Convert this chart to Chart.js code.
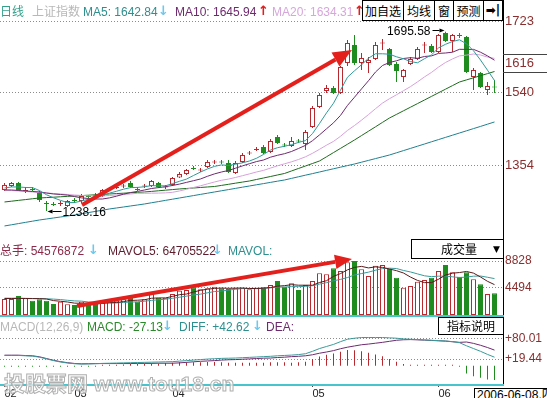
<!DOCTYPE html>
<html>
<head>
<meta charset="utf-8">
<script src="https://cdn.jsdelivr.net/npm/chart.js@4.4.0/dist/chart.umd.min.js"></script>
<style>
  body { margin: 0; background: #fff; width: 547px; height: 398px; overflow: hidden; position: relative;
         font-family: "Liberation Sans", "Noto Sans CJK SC", sans-serif; font-size: 12px; }
  canvas { position: absolute; left: 0; }
  .t { position: absolute; white-space: nowrap; line-height: 14px; }
  .ar { font-weight: bold; font-family: "DejaVu Sans", sans-serif; font-size: 13px; }
  .box { position: absolute; box-sizing: border-box; border: 1px solid #000; background: #fff; text-align: center;
         font-family: "Noto Sans CJK SC", sans-serif; font-size: 12px; white-space: nowrap; }
  .wm { position: absolute; font-weight: bold; font-size: 21px; color: rgba(255,255,255,0.7);
        -webkit-text-stroke: 1px #b0b0b0; white-space: nowrap; }
</style>
</head>
<body>
<canvas id="cMain" width="547" height="240" style="top:0"></canvas>
<canvas id="cVol" width="547" height="75" style="top:240px"></canvas>
<canvas id="cMacd" width="547" height="83" style="top:315px"></canvas>

<!-- main header -->
<div class="t" style="left:0;top:5px;color:#35a08a">日线</div>
<div class="t" style="left:32px;top:5px;color:#b8b8b8">上证指数</div>
<div class="t" style="left:83px;top:5px;color:#2e8f8f">MA5: 1642.84</div>
<div class="t ar" style="left:158px;top:4px;color:#6cc8ec">↓</div>
<div class="t" style="left:175px;top:5px;color:#6e2a6e">MA10: 1645.94</div>
<div class="t ar" style="left:258px;top:4px;color:#e02020">↑</div>
<div class="t" style="left:272px;top:5px;color:#d7a6dc">MA20: 1634.31</div>
<div class="t ar" style="left:354px;top:4px;color:#e02020">↑</div>

<!-- volume header -->
<div class="t" style="left:0;top:244px;color:#8c2a4a">总手: 54576872</div>
<div class="t ar" style="left:88px;top:243px;color:#6cc8ec">↓</div>
<div class="t" style="left:108px;top:244px;color:#5c1c2c">MAVOL5: 64705522</div>
<div class="t ar" style="left:212px;top:243px;color:#6cc8ec">↓</div>
<div class="t" style="left:228px;top:244px;color:#2e8f8f">MAVOL:</div>

<!-- macd header -->
<div class="t" style="left:0;top:320px;color:#b8b8b8">MACD(12,26,9)</div>
<div class="t" style="left:87px;top:320px;color:#2a8a2a">MACD: -27.13</div>
<div class="t ar" style="left:162px;top:319px;color:#6cc8ec">↓</div>
<div class="t" style="left:179px;top:320px;color:#2e8f8f">DIFF: +42.62</div>
<div class="t ar" style="left:252px;top:319px;color:#6cc8ec">↓</div>
<div class="t" style="left:266px;top:320px;color:#6e2a6e">DEA:</div>

<!-- watermark -->
<div class="wm" style="left:4px;top:367px">投股票网 www.tou18.cn</div>

<!-- boxes -->
<div class="box" style="left:362px;top:0;width:42px;height:21px;line-height:19px">加自选</div>
<div class="box" style="left:403px;top:0;width:32px;height:21px;line-height:19px">均线</div>
<div class="box" style="left:434px;top:0;width:20px;height:21px;line-height:19px">窗</div>
<div class="box" style="left:453px;top:0;width:31px;height:21px;line-height:19px">预测</div>
<div class="box" style="left:483px;top:0;width:20px;height:21px;line-height:19px;font-family:'DejaVu Sans';font-weight:bold">➡|</div>
<div class="box" style="left:411px;top:239px;width:92px;height:20px;line-height:18px;border-right:none">
  <span style="position:absolute;left:29px">成交量</span><span style="position:absolute;left:81px;font-size:9px;font-family:'DejaVu Sans'">▼</span>
</div>
<div class="box" style="left:438px;top:317px;width:66px;height:18px;line-height:16px">指标说明</div>
<div class="box" style="left:474px;top:388px;width:90px;height:14px;line-height:12px;text-align:left;padding-left:2px;font-family:'Liberation Sans','Noto Sans CJK SC'">2006-06-08,四</div>

<script>
// daily candles (index 0 = first day shown, 70 = 2006-06-08)
const opens = [1291.9,1302.1,1309.8,1289.4,1294.5,1284.2,1258.8,1256.2,1256.2,1251.1,
  1266.4,1263.8,1276.6,1279.1,1276.6,1293.2,1297.0,1300.8,1309.8,1294.5,
  1300.8,1302.1,1309.8,1298.3,1304.7,1323.8,1332.7,1348.0,1341.6,1350.6,
  1362.1,1364.6,1360.8,1335.3,1363.3,1385.0,1393.9,1401.6,1388.8,1427.1,
  1408.0,1404.2,1418.2,1409.2,1452.6,1503.6,1544.5,1552.1,1539.4,1615.9,
  1661.8,1615.9,1615.9,1626.1,1665.6,1651.6,1613.3,1580.2,1613.3,1626.1,
  1660.5,1659.3,1643.9,1692.4,1672.0,1687.3,1682.2,1580.2,1590.4,1547.0,
  1555.9];
const highs = [1309.8,1312.3,1312.3,1299.6,1299.6,1289.4,1263.8,1261.3,1263.8,1266.4,
  1271.5,1281.7,1279.1,1284.2,1294.5,1299.6,1304.7,1307.2,1314.9,1299.6,
  1307.2,1317.4,1312.3,1304.7,1325.1,1337.8,1345.5,1353.1,1348.0,1368.4,
  1368.4,1368.4,1368.4,1365.9,1386.3,1391.4,1401.6,1406.7,1422.0,1432.2,
  1411.8,1427.1,1422.0,1445.0,1506.2,1539.4,1559.7,1557.2,1608.2,1674.6,
  1687.3,1641.4,1631.2,1669.5,1677.1,1654.2,1618.4,1600.6,1631.2,1656.7,
  1669.5,1664.4,1689.9,1695.58,1689.9,1692.4,1684.8,1603.1,1592.9,1567.4,
  1572.5];
const lows = [1289.4,1299.6,1289.4,1284.2,1289.4,1261.3,1238.16,1251.1,1251.1,1248.5,
  1258.8,1258.8,1268.9,1271.5,1274.0,1289.4,1294.5,1297.0,1297.0,1289.4,
  1297.0,1299.6,1297.0,1294.5,1302.1,1322.5,1330.2,1342.9,1337.8,1348.0,
  1358.2,1358.2,1335.3,1332.7,1360.8,1381.2,1391.4,1383.7,1386.3,1409.2,
  1401.6,1401.6,1411.8,1393.9,1450.1,1501.1,1539.4,1536.8,1536.8,1608.2,
  1610.8,1598.0,1590.4,1623.5,1649.1,1608.2,1567.4,1567.4,1610.8,1623.5,
  1641.4,1641.4,1641.4,1669.5,1643.9,1679.7,1590.4,1547.0,1552.1,1534.3,
  1539.4];
const closes = [1304.7,1309.8,1291.9,1291.9,1291.9,1266.4,1256.2,1253.6,1258.8,1263.8,
  1263.8,1276.6,1274.0,1276.6,1291.9,1295.7,1299.6,1303.4,1299.6,1291.9,
  1303.4,1314.9,1299.6,1300.8,1322.5,1332.7,1342.9,1345.5,1344.2,1363.3,
  1364.6,1362.1,1337.8,1360.8,1381.2,1387.6,1396.5,1386.3,1416.9,1411.8,
  1405.4,1416.9,1415.6,1439.9,1501.1,1534.3,1552.1,1539.4,1605.7,1666.9,
  1615.9,1628.6,1623.5,1661.8,1666.9,1610.8,1595.5,1598.0,1626.1,1651.6,
  1663.1,1643.9,1687.3,1672.0,1687.3,1684.8,1592.9,1598.0,1554.7,1557.2,
  1553.4];

// moving average lines
const ma5 = [1297.0,1299.6,1299.6,1298.3,1298.0,1290.4,1279.7,1272.0,1265.4,1259.8,
  1259.8,1263.8,1268.4,1272.5,1278.1,1284.0,1288.6,1293.9,1298.0,1298.5,
  1300.1,1303.1,1302.4,1302.6,1308.2,1314.1,1319.7,1328.9,1337.6,1345.7,
  1352.1,1355.9,1354.4,1357.7,1361.3,1365.9,1372.8,1382.5,1393.7,1399.8,
  1403.4,1407.5,1413.3,1417.9,1435.8,1461.6,1488.6,1513.3,1546.5,1579.7,
  1596.0,1611.3,1628.1,1639.4,1639.4,1638.3,1631.7,1626.6,1619.5,1616.4,
  1626.9,1636.6,1654.4,1663.6,1670.7,1675.1,1664.9,1647.0,1623.5,1597.5,
  1571.2];
const ma10 = [1291.9,1291.9,1290.6,1289.4,1288.1,1286.8,1284.2,1281.7,1280.4,1278.9,
  1275.1,1271.8,1270.2,1268.9,1268.9,1271.8,1276.1,1281.2,1285.3,1288.3,
  1291.9,1295.7,1298.0,1300.3,1303.4,1307.0,1311.3,1315.6,1320.0,1326.9,
  1333.0,1337.8,1341.7,1347.5,1353.4,1359.0,1364.4,1368.4,1375.6,1380.4,
  1384.5,1390.1,1397.8,1405.7,1417.7,1432.5,1448.0,1463.3,1482.2,1507.7,
  1528.6,1549.8,1570.7,1592.9,1609.5,1617.2,1621.5,1627.4,1629.4,1627.9,
  1632.5,1634.0,1640.4,1641.4,1643.4,1650.8,1650.6,1650.6,1643.4,1634.0,
  1623.0];
const ma20 = [1291.9,1290.6,1289.4,1288.1,1286.8,1285.5,1284.2,1283.0,1281.7,1280.4,
  1279.1,1277.9,1277.1,1276.6,1276.6,1277.9,1279.1,1280.4,1281.7,1283.5,
  1283.5,1283.7,1284.0,1284.5,1286.0,1289.4,1293.7,1298.3,1302.6,1307.5,
  1312.3,1316.7,1319.7,1323.8,1328.4,1333.0,1337.8,1341.9,1347.8,1353.6,
  1358.7,1363.8,1369.7,1376.6,1385.5,1395.7,1406.2,1415.9,1428.9,1443.9,
  1456.4,1470.0,1484.3,1499.3,1513.6,1524.8,1534.8,1545.2,1555.7,1567.7,
  1580.4,1591.9,1605.4,1617.2,1626.3,1634.0,1636.0,1638.8,1636.3,1630.9,
  1627.6];
const ma30 = [1261.3,1263.3,1265.4,1267.4,1269.5,1271.5,1272.5,1273.5,1274.6,1275.6,
  1276.6,1277.6,1278.6,1279.7,1280.7,1281.7,1282.7,1283.7,1284.8,1285.8,
  1286.8,1288.3,1289.9,1291.4,1292.9,1294.5,1295.7,1297.0,1298.3,1299.6,
  1300.8,1303.6,1306.4,1309.3,1312.1,1314.9,1318.7,1322.5,1326.3,1330.2,
  1334.0,1340.4,1346.8,1353.1,1359.5,1365.9,1376.6,1387.3,1398.0,1408.7,
  1419.5,1430.7,1441.9,1453.1,1464.4,1475.6,1484.8,1494.0,1503.1,1512.3,
  1521.5,1530.7,1539.9,1549.1,1558.2,1567.4,1572.8,1578.1,1583.5,1588.8,
  1594.2];
const ma60 = [1200.1,1203.1,1206.2,1209.3,1212.3,1215.4,1217.9,1220.5,1223.0,1225.6,
  1228.1,1231.2,1234.3,1237.3,1240.4,1243.5,1246.0,1248.5,1251.1,1253.6,
  1256.2,1259.3,1262.3,1265.4,1268.4,1271.5,1274.6,1277.6,1280.7,1283.7,
  1286.8,1289.9,1292.9,1296.0,1299.1,1302.1,1305.2,1308.2,1311.3,1314.4,
  1317.4,1321.5,1325.6,1329.7,1333.7,1337.8,1341.9,1346.0,1350.1,1354.2,
  1358.2,1362.8,1367.4,1372.0,1376.6,1381.2,1386.8,1392.4,1398.0,1403.6,
  1409.2,1414.9,1420.5,1426.1,1431.7,1437.3,1442.9,1448.5,1454.1,1459.8,
  1465.4];

// volume
const vol = [2616,2616,3107,2730,2338,2567,2338,1799,2175,1749,
  1635,2175,1749,1913,2011,2175,2338,2567,2829,2175,
  2567,3548,2829,2829,3434,3973,4088,4464,4202,4365,
  4627,4365,4251,4365,4464,4200,4365,4529,4905,5559,
  4627,5183,4088,4905,5559,6818,6654,7635,7194,8616,
  8828,7472,6377,8061,8175,7521,6099,4464,4742,5445,
  5723,6099,7194,8175,6981,6262,6981,5837,5019,3434,
  3548];
const mavol5 = [2700,2700,2720,2700,2681,2672,2616,2354,2243,2126,
  1939,1907,1897,1844,1897,2005,2037,2201,2384,2417,
  2495,2737,2790,2790,3041,3323,3431,3758,4032,4218,
  4349,4405,4362,4395,4414,4329,4329,4385,4493,4712,
  4797,4961,4872,4872,4872,5311,5605,6314,6772,7383,
  7785,7949,7697,7871,7783,7521,7247,6864,6200,5654,
  5295,5295,5841,6527,6834,6942,7119,6847,6216,5507,
  4964];
const mavol10 = [2750,2740,2730,2720,2700,2680,2650,2600,2520,2404,
  2306,2262,2126,2044,2012,1972,1972,2049,2114,2157,
  2250,2387,2496,2587,2729,2909,3084,3274,3411,3630,
  3836,3918,4060,4214,4316,4339,4367,4374,4444,4563,
  4563,4645,4629,4683,4792,5054,5283,5593,5822,6128,
  6548,6777,7006,7322,7583,7653,7598,7281,7036,6719,
  6408,6271,6353,6364,6244,6119,6207,6344,6372,6171,
  5953];

// MACD(12,26,9)
const diff = [30,30,30,29,28,25,20,15,11,8,
  6,5,5.5,6,7,7.5,8,8.5,9,9.5,
  10,10.5,11,11.5,12,13.5,15,16.5,18,19.5,
  20.5,21.5,22,22.5,23.5,24.5,25.5,26.5,27.5,29,
  30,31,32.5,35,42,50,56,62,70,77,
  80,82,82,82,82,81,80,78,77,76,
  75,74,73,72,70,67,58,50,42,33,
  25];
const dea = [30.75,30.75,30.75,29.75,29,26,21,16,12,9,
  6.75,5.75,6,6.5,6.5,6.5,6.5,6.5,6.5,7,
  7,7,7.5,7.5,7.5,8.5,10,11.5,13,14,
  15,16.5,17.5,18,19,20,21,22,22.5,24,
  25,26.5,27.5,29,32,36.5,40,44,49.5,54,
  57.5,61,63,65.5,68,71,74,75.5,76,75.25,
  74.5,73.5,72.5,71.5,69.75,68,69,65,59.5,53,
  45.5];
const macd = [-1.5,-1.5,-1.5,-1.5,-2,-2,-2,-2,-2,-2,
  -1.5,-1.5,-1,-1,1,2,3,4,5,5,
  6,7,7,8,9,10,10,10,10,11,
  11,10,9,9,9,9,9,9,10,10,
  10,9,10,12,20,27,32,36,41,46,
  45,42,38,33,28,20,12,5,2,1.5,
  1,1,1,1,0.5,-2,-22,-30,-35,-40,
  -41];

// axis ticks
const priceTicks = [1723, 1616, 1540, 1354];
const volTicks = [8828, 4494];
const macdTicks = [80.01, 19.44];
const monthTicks = [0, 10, 24, 44, 62];
const monthLabels = ['02', '03', '04', '05', '06'];

const days = opens.map((_, i) => i);
const RED = '#b8282e', GREEN = '#1f8c1f', ARROW = '#e4201c';
const XMIN = -4.5 / 7, XMAX = (503 - 4.5) / 7;

Chart.defaults.font.family = '"Liberation Sans", Arial, sans-serif';
Chart.defaults.font.size = 12;

const up = i => closes[i] >= opens[i];
const pts = arr => arr.map((v, i) => ({ x: i, y: v }));
const line = (arr, color) => ({ type: 'line', data: pts(arr), borderColor: color, borderWidth: 1,
  pointRadius: 0, tension: 0, fill: false, order: 0 });

const common = {
  responsive: false, animation: false, devicePixelRatio: 1, events: [],
  layout: { padding: 0 },
  plugins: { legend: { display: false }, tooltip: { enabled: false } }
};

function xAxis(show) {
  const ax = { type: 'linear', min: XMIN, max: XMAX, offset: false, display: show, grid: { offset: false } };
  if (show) {
    ax.afterBuildTicks = s => { s.ticks = monthTicks.map(v => ({ value: v })); };
    ax.afterFit = s => { s.height = 13; s.paddingLeft = 0; s.paddingRight = 0; };
    ax.ticks = { color: '#222', font: { size: 11 }, padding: 0, align: 'start', maxRotation: 0,
      autoSkip: false, callback: (v, i) => monthLabels[i] };
    ax.grid = { offset: false, drawOnChartArea: false, drawTicks: true, tickLength: 2, color: '#444' };
    ax.border = { display: false };
  }
  return ax;
}

function rightAxis(min, max, ticks, fmt, size, hide) {
  return {
    position: 'right', min, max,
    afterBuildTicks: s => { s.ticks = ticks.map(v => ({ value: v })); },
    afterFit: s => { s.width = 44; s.paddingTop = 0; s.paddingBottom = 0; },
    ticks: { color: '#8a2f2f', font: { size }, padding: 2, callback: fmt },
    grid: { drawTicks: false, lineWidth: 1,
      color: c => (c.tick && c.tick.value === hide) ? 'rgba(0,0,0,0)' : '#8c8c8c' },
    border: { display: true, color: '#000', width: 1, dash: [1, 2] }
  };
}

function drawArrow(ctx, x1, y1, x2, y2, w, head, color) {
  const a = Math.atan2(y2 - y1, x2 - x1);
  const bx = x2 - head * Math.cos(a), by = y2 - head * Math.sin(a);
  const hw = head * 0.42;
  ctx.strokeStyle = color; ctx.fillStyle = color; ctx.lineWidth = w;
  ctx.beginPath(); ctx.moveTo(x1, y1); ctx.lineTo(bx, by); ctx.stroke();
  ctx.beginPath();
  ctx.moveTo(x2, y2);
  ctx.lineTo(bx + hw * Math.sin(a), by - hw * Math.cos(a));
  ctx.lineTo(bx - hw * Math.sin(a), by + hw * Math.cos(a));
  ctx.closePath(); ctx.fill();
}

// annotations on the price panel
const mainDeco = {
  id: 'mainDeco',
  afterDatasetsDraw(chart) {
    const { ctx, scales: { x, y } } = chart;
    ctx.save();
    drawArrow(ctx, x.getPixelForValue(11.07), y.getPixelForValue(1253.6),
      x.getPixelForValue(49.64), y.getPixelForValue(1649), 4, 19, ARROW);

    ctx.font = '12px "Liberation Sans", Arial, sans-serif';
    ctx.fillStyle = '#000';
    ctx.textBaseline = 'middle';
    const hi = highs.indexOf(Math.max(...highs));
    const hx = x.getPixelForValue(hi), hy = Math.round(y.getPixelForValue(highs[hi])) - 1.5;
    ctx.textAlign = 'right';
    ctx.fillText(highs[hi].toFixed(2), hx - 15, hy + 1);
    drawArrow(ctx, hx - 13, hy, hx - 1, hy, 1, 5, '#000');

    const lo = lows.indexOf(Math.min(...lows));
    const lx = x.getPixelForValue(lo), ly = Math.round(y.getPixelForValue(lows[lo])) + 0.5;
    drawArrow(ctx, lx + 15, ly, lx + 1, ly, 1, 5, '#000');
    ctx.fillStyle = '#000';
    ctx.textAlign = 'left';
    ctx.fillText(lows[lo].toFixed(2), lx + 16, ly + 1);

    // marker box around the 1616 label
    const my = Math.round(y.getPixelForValue(1616));
    ctx.fillStyle = '#444';
    ctx.fillRect(x.right, my - 9, 44, 1);
    ctx.fillRect(x.right, my + 9, 44, 1);
    ctx.restore();
  }
};

const volDeco = {
  id: 'volDeco',
  afterDatasetsDraw(chart) {
    const { ctx, scales: { x, y } } = chart;
    ctx.save();
    drawArrow(ctx, x.getPixelForValue(10.36), y.getPixelForValue(1471),
      x.getPixelForValue(49.64), y.getPixelForValue(9156), 4, 17, ARROW);
    ctx.restore();
  }
};

const macdDeco = {
  id: 'macdDeco',
  afterDraw(chart) {
    const { ctx, chartArea: a } = chart;
    ctx.save();
    ctx.fillStyle = '#48c4cc';
    ctx.fillRect(0, a.top, a.right + 1, 2);
    ctx.fillRect(0, a.bottom - 1, a.right + 1, 2);
    ctx.restore();
  }
};

// price panel
new Chart(document.getElementById('cMain'), {
  type: 'bar',
  data: {
    datasets: [
      line(ma5, '#2f9a9a'),
      line(ma10, '#6e2a6e'),
      line(ma20, '#d8a0dc'),
      line(ma30, '#1c6b1c'),
      line(ma60, '#1f8090'),
      {
        data: days.map(i => ({ x: i, y: [opens[i], closes[i]] })),
        backgroundColor: c => up(c.dataIndex) ? '#fff' : GREEN,
        borderColor: c => up(c.dataIndex) ? RED : GREEN,
        borderWidth: 1, borderSkipped: false, grouped: false, maxBarThickness: 5,
        minBarLength: 1, inflateAmount: 0, order: 1
      },
      {
        data: days.map(i => ({ x: i, y: [lows[i], highs[i]] })),
        backgroundColor: c => up(c.dataIndex) ? RED : GREEN,
        borderWidth: 0, grouped: false, maxBarThickness: 1, inflateAmount: 0, order: 2
      }
    ]
  },
  options: Object.assign({}, common, {
    scales: { x: xAxis(false), y: rightAxis(1164.3, 1776.6, priceTicks, v => String(v), 13, 1616) }
  }),
  plugins: [mainDeco]
});

// volume panel
new Chart(document.getElementById('cVol'), {
  type: 'bar',
  data: {
    datasets: [
      line(mavol5, '#5a1a1a'),
      line(mavol10, '#3a9a9a'),
      {
        data: pts(vol),
        backgroundColor: c => up(c.dataIndex) ? '#fff' : GREEN,
        borderColor: c => up(c.dataIndex) ? RED : GREEN,
        borderWidth: 1, borderSkipped: false, grouped: false, maxBarThickness: 5,
        inflateAmount: 0, order: 1
      }
    ]
  },
  options: Object.assign({}, common, {
    scales: { x: xAxis(false), y: rightAxis(0, 12262, volTicks, v => String(v), 12, null) }
  }),
  plugins: [volDeco]
});

// MACD panel
new Chart(document.getElementById('cMacd'), {
  type: 'bar',
  data: {
    datasets: [
      line(diff, '#3a9a9a'),
      line(dea, '#6e2a6e'),
      {
        data: pts(macd),
        backgroundColor: c => (macd[c.dataIndex] >= 0) ? RED : GREEN,
        borderWidth: 0, grouped: false, maxBarThickness: 1, minBarLength: 1,
        inflateAmount: 0, order: 1
      }
    ]
  },
  options: Object.assign({}, common, {
    scales: { x: xAxis(true), y: rightAxis(-55.7, 147.3, macdTicks, v => '+' + v.toFixed(2), 12, null) }
  }),
  plugins: [macdDeco]
});
</script>
</body>
</html>
